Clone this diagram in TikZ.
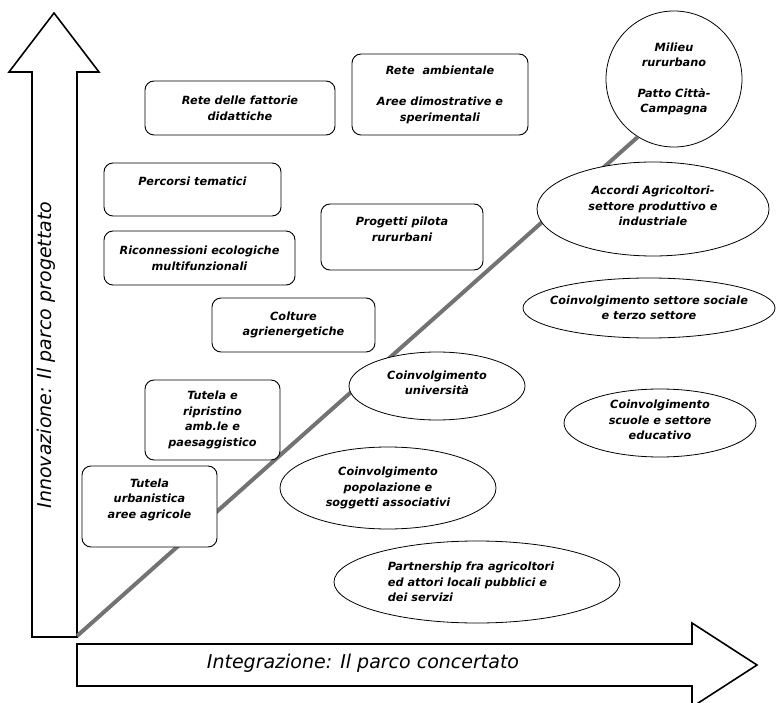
\documentclass[tikz,border=0pt]{standalone}
\usepackage{fontspec}
\setmainfont{DejaVu Sans}
\usetikzlibrary{shapes.geometric}

\begin{document}
\begin{tikzpicture}[x=1pt,y=-1pt]
\tikzstyle{every node}+=[inner sep=0pt]
\tikzstyle{box}=[draw=black, fill=white, line width=0.9pt, rounded corners=9pt, align=center, font=\fontsize{11.3}{15.7}\selectfont\bfseries\itshape]
\tikzstyle{oval}=[draw=black, fill=white, line width=0.8pt, ellipse]
\tikzstyle{txt}=[align=center, font=\fontsize{11.3}{15.3}\selectfont\bfseries\itshape]
\tikzstyle{axis}=[draw=black, fill=white, line width=1.6pt, line join=miter]
\tikzstyle{axislabel}=[font=\fontsize{19}{22}\selectfont\itshape]
\useasboundingbox (0,0) rectangle (776,703);
% the two axes
\draw [axis] (32,637) -- (32,72) -- (9,72) -- (54,13) -- (99,72) -- (77,72) -- (77,637) -- cycle;
\draw [axis] (77,644) -- (692,644) -- (692,623) -- (757,665) -- (692,707) -- (692,686) -- (77,686) -- cycle;
\draw (46,355) node [axislabel, rotate=90] (innovazione) {Innovazione: Il parco progettato};
\draw (363,663) node [axislabel] (integrazione) {Integrazione: Il parco concertato};
\coordinate (origine) at (77,636);
% the circle at the top
\draw (674,79) node [oval, minimum size=136pt] (milieu) {};
\draw (milieu) node [txt] (milieutxt) {Milieu\\rururbano\\[15.3pt]Patto Città-\\Campagna};
% diagonal
\draw [black!55, line width=4pt] (origine) -- (milieu.-122);
% boxes
\draw (240,108) node [box, minimum width=190pt, minimum height=54pt] (fattorie) {Rete delle fattorie\\didattiche};
\draw (440,94.5) node [box, minimum width=176pt, minimum height=81pt] (ambientale) {Rete~~ambientale\\[15.7pt]Aree dimostrative e\\sperimentali};
\draw (192.5,189.5) node [box, minimum width=177pt, minimum height=53pt] (percorsi) {Percorsi tematici\\ \mbox{}};
\draw (199.5,258) node [box, minimum width=191pt, minimum height=54pt] (riconnessioni) {Riconnessioni ecologiche\\multifunzionali};
\draw (402,237) node [box, minimum width=162pt, minimum height=66pt] (pilota) {Progetti pilota\\rururbani\\ \mbox{}};
\draw (293.5,325) node [box, minimum width=163pt, minimum height=54pt] (colture) {Colture\\agrienergetiche};
\draw (212.5,420) node [box, minimum width=135pt, minimum height=80pt] (ripristino) {Tutela e\\ripristino\\amb.le e\\paesaggistico};
\draw (149.5,506.5) node [box, minimum width=135pt, minimum height=81pt] (urbanistica) {Tutela\\urbanistica\\aree agricole\\ \mbox{}};
% ellipses
\draw (653,209) node [oval, minimum width=232pt, minimum height=94pt] (accordi) {};
\draw (accordi) ++(0,-3) node [txt] (accorditxt) {Accordi Agricoltori-\\settore produttivo e\\industriale};
\draw (649,308) node [oval, minimum width=252pt, minimum height=60pt] (sociale) {};
\draw (sociale) node [txt] (socialetxt) {Coinvolgimento settore sociale\\e terzo settore};
\draw (437,386) node [oval, minimum width=176pt, minimum height=68pt] (universita) {};
\draw (universita) ++(0,-3) node [txt] (universitatxt) {Coinvolgimento\\università};
\draw (660,423) node [oval, minimum width=192pt, minimum height=68pt] (scuole) {};
\draw (scuole) ++(0,-3) node [txt] (scuoletxt) {Coinvolgimento\\scuole e settore\\educativo};
\draw (388,488) node [oval, minimum width=216pt, minimum height=82pt] (popolazione) {};
\draw (popolazione) node [txt] (popolazionetxt) {Coinvolgimento\\popolazione e\\soggetti associativi};
\draw (477,582) node [oval, minimum width=286pt, minimum height=82pt] (partnership) {};
\draw (partnership) ++(-6,0) node [txt, align=left] (partnershiptxt) {Partnership fra agricoltori\\ed attori locali pubblici e\\dei servizi};
\end{tikzpicture}
\end{document}
